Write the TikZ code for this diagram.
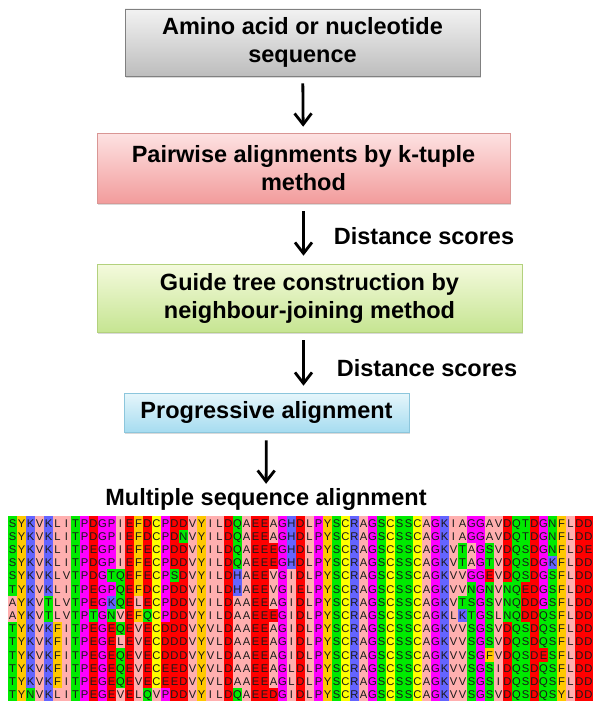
\documentclass[tikz,border=0pt]{standalone}
\usepackage{fontspec}
\setmainfont{Liberation Sans}
\usepackage{tikz}
\usetikzlibrary{arrows.meta}
\usetikzlibrary{shadows}
\usetikzlibrary{positioning}

% box colours
\definecolor{seq-top}{HTML}{F2F2F2}
\definecolor{seq-bot}{HTML}{BDBDBD}
\definecolor{seq-line}{HTML}{808080}
\definecolor{pair-top}{HTML}{FDE2E2}
\definecolor{pair-bot}{HTML}{F29C9C}
\definecolor{pair-line}{HTML}{D99694}
\definecolor{tree-top}{HTML}{F4FADD}
\definecolor{tree-bot}{HTML}{C6E592}
\definecolor{tree-line}{HTML}{B3D17D}
\definecolor{prog-top}{HTML}{E6F6FB}
\definecolor{prog-bot}{HTML}{A6DCF0}
\definecolor{prog-line}{HTML}{8CC6DC}

% residue colours
\definecolor{zapA}{HTML}{FFAFAF}
\colorlet{zapI}{zapA}\colorlet{zapL}{zapA}\colorlet{zapV}{zapA}\colorlet{zapM}{zapA}
\definecolor{zapF}{HTML}{FFC800}
\colorlet{zapW}{zapF}\colorlet{zapY}{zapF}
\definecolor{zapK}{HTML}{6464FF}
\colorlet{zapR}{zapK}\colorlet{zapH}{zapK}
\definecolor{zapD}{HTML}{FF0000}
\colorlet{zapE}{zapD}
\definecolor{zapS}{HTML}{00EA00}
\colorlet{zapT}{zapS}\colorlet{zapN}{zapS}\colorlet{zapQ}{zapS}
\definecolor{zapP}{HTML}{FF00FF}
\colorlet{zapG}{zapP}
\definecolor{zapC}{HTML}{FFFF00}

% one row of the alignment, one cell per residue
\newcount\rescol
\newcommand\seqrow[2]{%
  \rescol=0
  \def\seqy{#1}%
  \seqcell#2\relax}
\newcommand\seqcell[1]{%
  \ifx#1\relax\else
    \advance\rescol by 1
    \node[res, fill=zap#1] (s\seqy-\the\rescol)
      at ({8+(\the\rescol-0.5)*9}, {516.5+(\seqy-0.5)*13.2}) {#1};
    \expandafter\seqcell
  \fi}

\begin{document}
\begin{tikzpicture}[x=1pt, y=-1pt, >={Straight Barb[length=11pt,width=17pt]},
    stage/.style={rectangle, line width=0.6pt, align=center,
      font=\bfseries\fontsize{23.5}{28}\selectfont,
      drop shadow={shadow xshift=1pt, shadow yshift=-1.5pt, opacity=0.3}},
    flow/.style={->, line width=2.8pt},
    lbl/.style={inner sep=0pt, font=\bfseries\fontsize{23.5}{28}\selectfont},
    res/.style={minimum width=9.4pt, minimum height=13.6pt, inner sep=0pt,
      text height=8pt, text depth=0pt, text=black!90,
      font=\fontsize{11.2}{11.2}\selectfont}]
    \useasboundingbox (0,0) rectangle (593,701);

    % Steps
    \node[stage, top color=seq-top, bottom color=seq-bot, draw=seq-line,
      minimum width=355pt, minimum height=67pt] (input) at (302.5,42.5)
      {Amino acid or nucleotide\\sequence};
    \node[stage, top color=pair-top, bottom color=pair-bot, draw=pair-line,
      minimum width=413pt, minimum height=70pt] (pairwise) at (303.5,168)
      {Pairwise alignments by k-tuple\\method};
    \node[stage, top color=tree-top, bottom color=tree-bot, draw=tree-line,
      minimum width=425pt, minimum height=68pt] (guide) at (309.5,298)
      {Guide tree construction by\\neighbour-joining method};
    \node[stage, top color=prog-top, bottom color=prog-bot, draw=prog-line,
      minimum width=285pt, minimum height=39pt] (progressive) at (266.5,412.5)
      {Progressive alignment};
    \node[lbl, anchor=base] (msa) at (266,505) {Multiple sequence alignment};

    % Arrows
    \draw[flow, shorten <=7pt, shorten >=6pt] (input) -- (pairwise);
    \draw[flow, shorten <=8pt, shorten >=8pt] (pairwise.south) -- (pairwise.south |- guide.north)
      node[lbl, pos=0.55, right=29pt] (dist1) {Distance scores};
    \draw[flow, shorten <=8pt, shorten >=7pt] (guide.south -| pairwise.south) -- (progressive.north -| pairwise.south)
      node[lbl, pos=0.59, right=32pt] (dist2) {Distance scores};
    \draw[flow, shorten <=8pt, shorten >=4pt] (progressive) -- (msa);

    % Alignment
    \foreach \seq [count=\r] in {
      SYKVKLITPDGPIEFDCPDDVYILDQAEEAGHDLPYSCRAGSCSSCAGKIAGGAVDQTDGNFLDD,
      SYKVKLITPDGPIEFDCPDNVYILDQAEEAGHDLPYSCRAGSCSSCAGKIAGGAVDQTDGNFLDD,
      SYKVKLITPEGPIEFECPDDVYILDQAEEEGHDLPYSCRAGSCSSCAGKVTAGSVDQSDGNFLDE,
      SYKVKLITPDGPIEFECPDDVYILDQAEEEGHDLPYSCRAGSCSSCAGKVTAGTVDQSDGKFLDD,
      SYKVKLVTPDGTQEFECPSDVYILDHAEEVGIDLPYSCRAGSCSSCAGKVVGGEVDQSDGSFLDD,
      TYKVKLITPEGPQEFDCPDDVYILDHAEEVGIELPYSCRAGSCSSCAGKVVNGNVNQEDGSFLDD,
      AYKVTLVTPEGKQELECPDDVYILDAAEEAGIDLPYSCRAGSCSSCAGKVTSGSVNQDDGSFLDD,
      AYKVTLVTPTGNVEFQCPDDVYILDAAEEEGIDLPYSCRAGSCSSCAGKLKTGSLNQDDQSFLDD,
      TYKVKFITPEGEQEVECDDDVYVLDAAEEAGIDLPYSCRAGSCSSCAGKVVSGSVDQSDQSFLDD,
      TYKVKFITPEGELEVECDDDVYVLDAAEEAGIDLPYSCRAGSCSSCAGKVVSGSVDQSDQSFLDD,
      TYKVKFITPEGEQEVECDDDVYVLDAAEEAGIDLPYSCRAGSCSSCAGKVVSGFVDQSDESFLDD,
      TYKVKFITPEGEQEVECEEDVYVLDAAEEAGLDLPYSCRAGSCSSCAGKVVSGSIDQSDQSFLDD,
      TYKVKFITPEGEQEVECEEDVYVLDAAEEAGLDLPYSCRAGSCSSCAGKVVSGSIDQSDQSFLDD,
      TYNVKLITPEGEVELQVPDDVYILDQAEEDGIDLPYSCRAGSCSSCAGKVVSGSVDQSDQSYLDD}
      {\edef\next{\noexpand\seqrow{\r}{\seq}}\next}
\end{tikzpicture}
\end{document}
